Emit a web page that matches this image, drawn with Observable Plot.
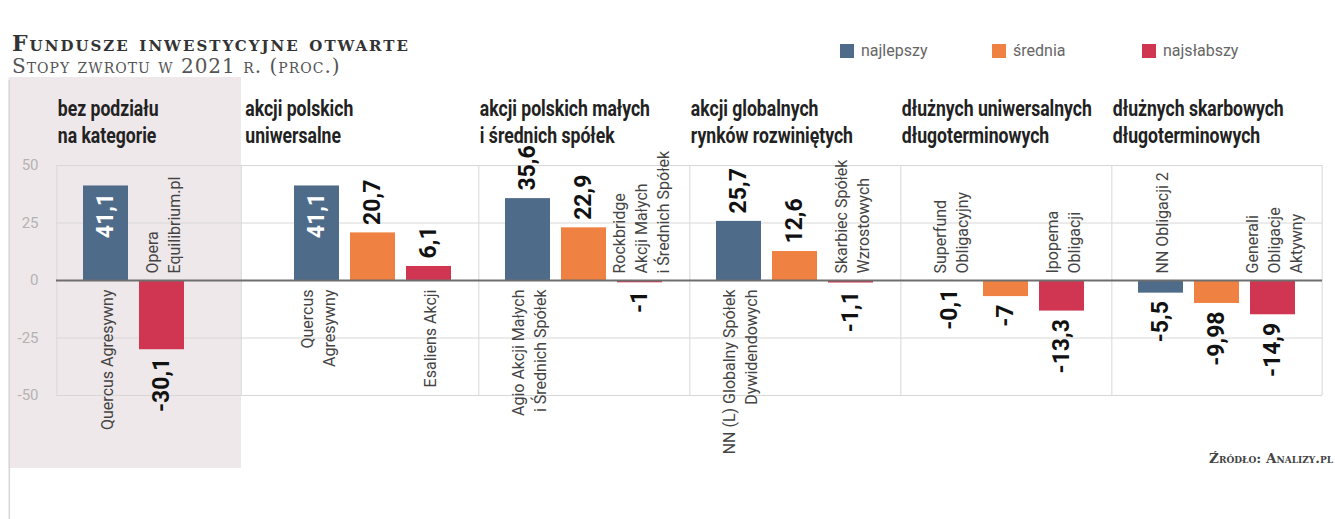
<!DOCTYPE html>
<html>
<head>
<meta charset="utf-8">
<script src="https://cdn.jsdelivr.net/npm/d3@7"></script>
<script src="https://cdn.jsdelivr.net/npm/@observablehq/plot@0.6"></script>
<style>
  body { margin: 0; background: #fff; }
  #wrap { position: relative; width: 1335px; height: 519px; overflow: hidden; background: #fff; }
  #title { position: absolute; left: 12px; top: 33px; font-family: "DejaVu Serif", serif; font-variant: small-caps; font-weight: bold; font-size: 22px; letter-spacing: 2px; color: #333; white-space: nowrap; line-height: 20px; }
  #subtitle { position: absolute; left: 12px; top: 57px; font-family: "DejaVu Serif", serif; font-variant: small-caps; font-size: 20px; letter-spacing: 1px; color: #555; white-space: nowrap; line-height: 18px; }
  #legend { position: absolute; top: 41px; left: 0; font-family: "Roboto", sans-serif; font-size: 16px; color: #666; }
  .sw { position: absolute; display: flex; align-items: center; white-space: nowrap; }
  .sq { width: 14px; height: 14px; margin-right: 7px; display: inline-block; }
  #chart { position: absolute; left: 0; top: 77px; }
  #source { position: absolute; right: 2px; top: 450px; font-family: "DejaVu Serif", serif; font-variant: small-caps; font-weight: bold; font-size: 13.5px; color: #444; white-space: nowrap; }
</style>
</head>
<body>
<div id="wrap">
  <div id="title">Fundusze inwestycyjne otwarte</div>
  <div id="subtitle">Stopy zwrotu w 2021 r. (proc.)</div>
  <div id="legend"></div>
  <div id="chart"></div>
  <div id="source">Źródło: Analizy.pl</div>
</div>
<script>
// ---- data ----
const categories = [
  "bez podziału\nna kategorie",
  "akcji polskich\nuniwersalne",
  "akcji polskich małych\ni średnich spółek",
  "akcji globalnych\nrynków rozwiniętych",
  "dłużnych uniwersalnych\ndługoterminowych",
  "dłużnych skarbowych\ndługoterminowych"
];
const types = ["najlepszy", "średnia", "najsłabszy"];
const colors = ["#4e6b8a", "#ef8142", "#d03652"];
const best = [41.1, 41.1, 35.6, 25.7, -0.1, -5.5];
const average = [null, 20.7, 22.9, 12.6, -7, -9.98];
const worst = [-30.1, 6.1, -1, -1.1, -13.3, -14.9];
const bestNames = [
  "Quercus Agresywny",
  "Quercus\nAgresywny",
  "Agio Akcji Małych\ni Średnich Spółek",
  "NN (L) Globalny Spółek\nDywidendowych",
  "Superfund\nObligacyjny",
  "NN Obligacji 2"
];
const worstNames = [
  "Opera\nEquilibrium.pl",
  "Esaliens Akcji",
  "Rockbridge\nAkcji Małych\ni Średnich Spółek",
  "Skarbiec Spółek\nWzrostowych",
  "Ipopema\nObligacji",
  "Generali\nObligacje\nAktywny"
];
const yDomain = [-50, 50];
const yTicks = [-50, -25, 0, 25, 50];

// ---- table ----
const rows = [];
categories.forEach((cat, i) => {
  let slot = 0;
  [[best, bestNames, types[0]], [average, null, types[1]], [worst, worstNames, types[2]]].forEach(([vals, names, type]) => {
    if (vals[i] == null) return;
    rows.push({cat, slot: slot++, value: vals[i], type, name: names ? names[i] : null});
  });
});
const fmt = v => String(v).replace(".", ",");

// ---- legend ----
const legendX = [840, 992, 1142];
const legend = document.getElementById("legend");
types.forEach((t, i) => {
  const d = document.createElement("div");
  d.className = "sw";
  d.style.left = legendX[i] + "px";
  d.innerHTML = `<span class="sq" style="background:${colors[i]}"></span>${t}`;
  legend.appendChild(d);
});

// ---- geometry ----
const W = 1335, H = 442, mL = 55, mR = 12, mT = 88, mB = 124;
const pIn = 0.2, pOut = 0.47;
const facetW = (W - mL - mR) / categories.length;
const step = facetW / (3 - pIn + 2 * pOut);
const bw = step * (1 - pIn), outer = step * pOut;

const sans = `"Roboto", "Liberation Sans", sans-serif`;
const first = categories[0], second = categories[1], last = categories[categories.length - 1];

const chart = Plot.plot({
  width: W, height: H,
  marginLeft: mL, marginRight: mR, marginTop: mT, marginBottom: mB,
  style: {fontFamily: sans, background: "transparent", overflow: "visible"},
  fx: {domain: categories, paddingInner: 0, paddingOuter: 0, axis: null, label: null},
  x: {domain: [0, 1, 2], paddingInner: pIn, paddingOuter: pOut, axis: null, label: null},
  y: {domain: yDomain, axis: null, label: null},
  color: {domain: types, range: colors},
  marks: [
    // shaded first panel
    Plot.barY([first], {fx: d => d, x: () => 0, y1: () => yDomain[0], y2: () => yDomain[1],
      fill: "#efe8ea", insetLeft: -(outer + mL - 7), insetRight: -(2 * step), insetTop: -mT, insetBottom: -73}),
    // outer left line of the graphic
    Plot.ruleX([first], {fx: d => d, x: () => 0, dx: -(bw / 2 + outer + mL - 7.5), stroke: "#d6d6d6", strokeWidth: 1.5, insetTop: -(mT - 3), insetBottom: -mB}),
    Plot.gridY(yTicks, {stroke: "#d8d8d8", strokeOpacity: 1}),
    // panel dividers
    Plot.ruleX(categories.filter(c => c !== second), {fx: d => d, x: () => 0, dx: -(bw / 2 + outer), stroke: "#d8d8d8"}),
    Plot.ruleX([second], {fx: d => d, x: () => 0, dx: -(bw / 2 + 2 * outer), stroke: "#d8d8d8"}),
    Plot.ruleX([last], {fx: d => d, x: () => 2, dx: bw / 2 + outer, stroke: "#d8d8d8"}),
    // bars
    Plot.barY(rows, {fx: "cat", x: "slot", y: "value", fill: "type"}),
    Plot.ruleY([0], {stroke: "#6e6e6e", strokeWidth: 2}),
    // value labels
    Plot.text(rows.filter(d => d.value > 0 && d.value <= 38), {fx: "cat", x: "slot", y: "value", text: d => fmt(d.value),
      rotate: -90, textAnchor: "start", dy: -8, fontSize: 23, fontWeight: "bold", fill: "#111"}),
    Plot.text(rows.filter(d => d.value > 38), {fx: "cat", x: "slot", y: "value", text: d => fmt(d.value),
      rotate: -90, textAnchor: "end", dy: 7, fontSize: 23, fontWeight: "bold", fill: "#fff"}),
    Plot.text(rows.filter(d => d.value < 0), {fx: "cat", x: "slot", y: "value", text: d => fmt(d.value),
      rotate: -90, textAnchor: "end", dy: 8, fontSize: 23, fontWeight: "bold", fill: "#111"}),
    // fund names
    Plot.text(rows.filter(d => d.name && d.value > 0), {fx: "cat", x: "slot", y: () => 0, text: "name",
      rotate: -90, textAnchor: "end", dy: 9, fontSize: 16, lineHeight: 1.35, fill: "#444"}),
    Plot.text(rows.filter(d => d.name && d.value < 0), {fx: "cat", x: "slot", y: () => 0, text: "name",
      rotate: -90, textAnchor: "start", dy: -7, fontSize: 16, lineHeight: 1.35, fill: "#444"}),
    // category titles
    Plot.text(categories.filter(c => c !== second), {fx: d => d, x: () => 0, text: d => d, frameAnchor: "top", className: "cat-title",
      textAnchor: "start", lineAnchor: "top", dx: -(bw / 2 + outer) + 1, dy: -68, fontSize: 22, fontWeight: "bold", lineHeight: 1.2, fill: "#222"}),
    Plot.text([second], {fx: d => d, x: () => 0, text: d => d, frameAnchor: "top", className: "cat-title",
      textAnchor: "start", lineAnchor: "top", dx: -(bw / 2 + 2 * outer) + 4, dy: -68, fontSize: 22, fontWeight: "bold", lineHeight: 1.2, fill: "#222"}),
    // y axis
    Plot.axisY(yTicks, {tickSize: 0, tickPadding: 18, fontSize: 15, color: "#b3b3b3", tickFormat: d => String(d)})
  ]
});
// condensed look of the panel headings
chart.querySelectorAll(".cat-title text").forEach(t => {
  t.setAttribute("transform", (t.getAttribute("transform") || "") + " scale(0.8,1)");
});
document.getElementById("chart").appendChild(chart);
</script>
</body>
</html>
